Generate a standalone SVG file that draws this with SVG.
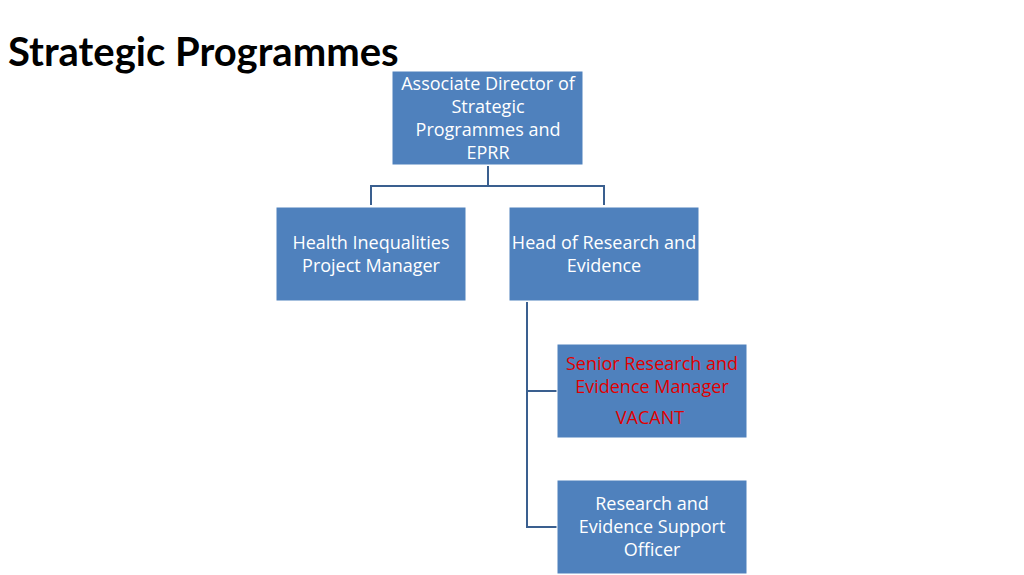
<svg xmlns="http://www.w3.org/2000/svg" width="1024" height="575" viewBox="0 0 1024 575">
<style>
.box{fill:#4f81bd;stroke:#fff;stroke-width:1}
.t{font-family:"Open Sans","Liberation Sans",sans-serif;font-size:18px;fill:#fff;text-anchor:middle}
.r{fill:#e00000}
.c{fill:none;stroke:#3a5f8f;stroke-width:2}
</style>
<rect width="1024" height="575" fill="#fff"/>
<text x="8" y="66" font-family="Lato,'Liberation Sans',sans-serif" font-weight="bold" font-size="40" fill="#000">Strategic Programmes</text>
<g id="connectors">
<path class="c" d="M488 166V186M371 205V186H604V205M527 302V527H557M527 391H557"/>
</g>
<g id="n1"><rect class="box" x="392" y="71" width="191" height="94"/><text class="t" x="488" y="90">Associate Director of</text><text class="t" x="488" y="113">Strategic</text><text class="t" x="488" y="136">Programmes and</text><text class="t" x="488" y="159">EPRR</text></g>
<g id="n2"><rect class="box" x="276" y="207" width="190" height="94"/><text class="t" x="371" y="249">Health Inequalities</text><text class="t" x="371" y="272">Project Manager</text></g>
<g id="n3"><rect class="box" x="509" y="207" width="190" height="94"/><text class="t" x="604" y="249">Head of Research and</text><text class="t" x="604" y="272">Evidence</text></g>
<g id="n4"><rect class="box" x="557" y="344" width="190" height="94"/><text class="t r" x="652" y="370">Senior Research and</text><text class="t r" x="652" y="393">Evidence Manager</text><text class="t r" x="650" y="424">VACANT</text></g>
<g id="n5"><rect class="box" x="557" y="480" width="190" height="94"/><text class="t" x="652" y="510">Research and</text><text class="t" x="652" y="533">Evidence Support</text><text class="t" x="652" y="556">Officer</text></g>
</svg>
